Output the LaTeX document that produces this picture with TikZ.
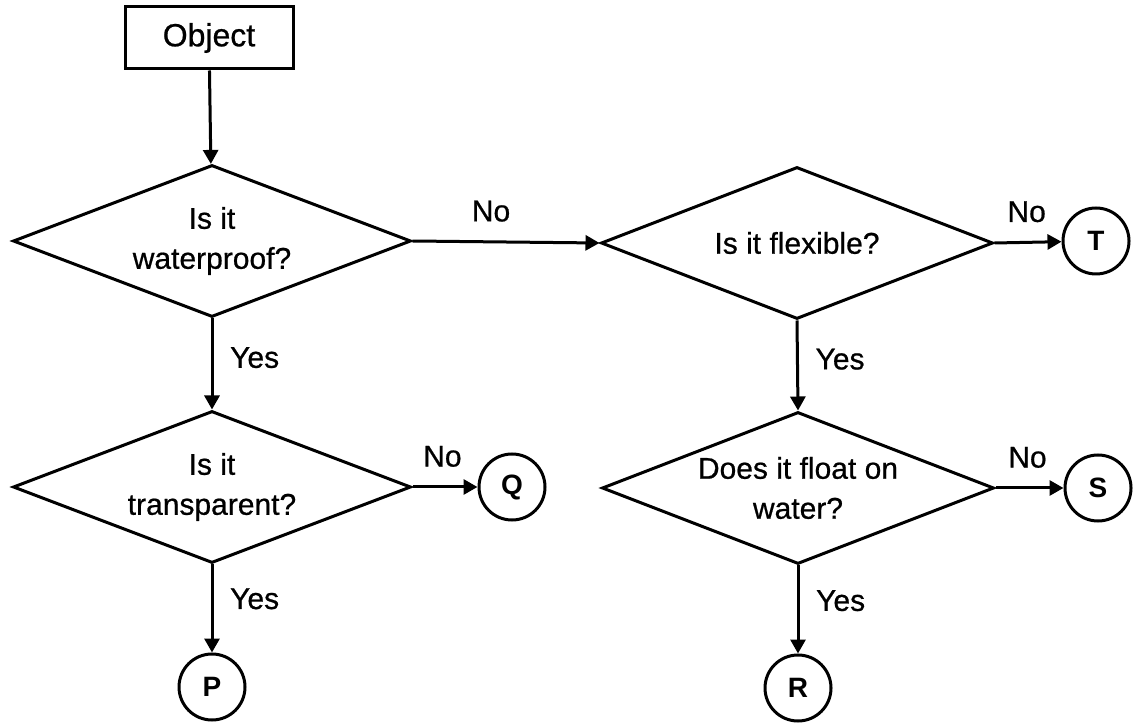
\documentclass[tikz,border=0pt]{standalone}
\usepackage{fontspec}
\setmainfont{Liberation Sans}
\newfontfamily\scanfont{Liberation Sans}[FakeBold=0.7]
\usetikzlibrary{shapes.geometric,arrows.meta}

\tikzset{
  question/.style={diamond,draw,line width=1.5pt,inner sep=0pt,aspect=2.5,
    minimum width=199pt,minimum height=76pt,align=center,
    font=\scanfont\fontsize{15}{20}\selectfont},
  startbox/.style={rectangle,draw,line width=1.5pt,minimum width=84pt,
    minimum height=31pt,font=\scanfont\fontsize{16}{18}\selectfont},
  outcome/.style={circle,draw,line width=1.5pt,minimum size=33pt,inner sep=0pt,
    font=\bfseries\fontsize{14}{16}\selectfont},
  link/.style={-{Triangle[length=7pt,width=7.5pt]},line width=1.5pt},
  answer/.style={font=\scanfont\fontsize{15}{17}\selectfont}
}

\begin{document}
\begin{tikzpicture}[x=0.5pt,y=-0.5pt]
    \useasboundingbox (0,0) rectangle (1140,726);
    \node[startbox](obj) at (209,38) {Object};
    \node[question](waterproof) at (212,241) {Is it\\waterproof?};
    \node[question,minimum width=196pt](flexible) at (797,243) {Is it flexible?};
    \node[question](transparent) at (212,487) {Is it\\transparent?};
    \node[question,minimum width=196pt](floats) at (798,488) {Does it float on\\water?};
    \node[outcome](T) at (1096,241) {T};
    \node[outcome](Q) at (512,487) {Q};
    \node[outcome](S) at (1098,488) {S};
    \node[outcome](P) at (212,687) {P};
    \node[outcome](R) at (798,688) {R};

    \draw[link] (obj) -- (waterproof);
    \draw[link] (waterproof.east) -- node[answer,above=6pt,pos=0.42](no1){No} (flexible.west);
    \draw[link] (flexible.east) -- node[answer,above=6pt,pos=0.48](no2){No} (T);
    \draw[link] (waterproof.south) -- node[answer,right=5pt,pos=0.43](yes1){Yes} (transparent.north);
    \draw[link] (flexible.south) -- node[answer,right=5pt,pos=0.43](yes2){Yes} (floats.north);
    \draw[link] (transparent.east) -- node[answer,above=6pt,pos=0.46](no3){No} (Q);
    \draw[link] (floats.east) -- node[answer,above=6pt,pos=0.47](no4){No} (S);
    \draw[link] (transparent.south) -- node[answer,right=5pt,pos=0.39](yes3){Yes} (P);
    \draw[link] (floats.south) -- node[answer,right=5pt,pos=0.4](yes4){Yes} (R);
\end{tikzpicture}
\end{document}
